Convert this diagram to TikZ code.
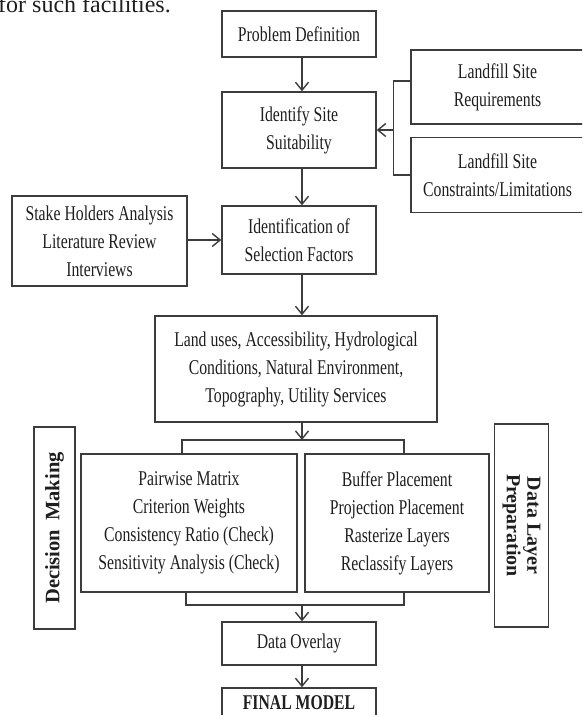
\documentclass[tikz,border=0pt]{standalone}
\usepackage{fontspec}
\setmainfont{Liberation Serif}[FakeStretch=0.75]
\newfontfamily\vfam{Liberation Serif}
\usetikzlibrary{arrows.meta}
\definecolor{lncol}{RGB}{60,60,60}
\definecolor{txcol}{RGB}{30,30,30}
\begin{document}
\begin{tikzpicture}[x=1pt,y=-1pt,
  box/.style={draw=lncol,line width=1.4pt,text=txcol,align=center,inner sep=0pt,
    font=\fontsize{21}{28}\selectfont},
  vbox/.style={draw=lncol,line width=1.4pt,text=txcol,align=center,inner sep=0pt},
  conn/.style={draw=lncol,line width=1.4pt},
  arr/.style={conn,-{Straight Barb[length=8pt,width=13pt]}}]
\useasboundingbox (0,0) rectangle (582,715);
\clip (0,0) rectangle (582,715);
\node[anchor=base west,font=\vfam\fontsize{24}{24}\selectfont,text=txcol,inner sep=0pt] (toptext) at (-2,12) {for such facilities.};
% main column
\node[box,minimum width=154pt,minimum height=46pt] (prob) at (299,34) {Problem Definition};
\node[box,minimum width=154pt,minimum height=76pt] (ident) at (299,130) {Identify Site\\Suitability};
\node[box,minimum width=154pt,minimum height=68pt] (sel) at (299,240) {Identification of\\Selection Factors};
\node[box,minimum width=282pt,minimum height=106pt] (land) at (296,369) {Land uses, Accessibility, Hydrological\\Conditions, Natural Environment,\\Topography, Utility Services};
\node[box,minimum width=216pt,minimum height=138pt] (pair) at (189,523) {Pairwise Matrix\\Criterion Weights\\Consistency Ratio (Check)\\Sensitivity Analysis (Check)};
\node[box,minimum width=184pt,minimum height=138pt] (buf) at (397,523) {Buffer Placement\\Projection Placement\\Rasterize Layers\\Reclassify Layers};
\node[box,minimum width=154pt,minimum height=43pt] (over) at (299,643.5) {Data Overlay};
\node[box,minimum width=154pt,minimum height=30pt] (final) at (299,703) {\bfseries FINAL MODEL};
% side boxes
\node[box,minimum width=173pt,minimum height=74pt] (req) at (497.5,87) {Landfill Site\\Requirements};
\node[box,minimum width=173pt,minimum height=75pt] (cons) at (497.5,175) {Landfill Site\\Constraints/Limitations};
\node[box,minimum width=175pt,minimum height=90pt] (stake) at (99.5,241) {Stake Holders Analysis\\Literature Review\\Interviews};
\node[vbox,minimum width=41pt,minimum height=202pt] (dec) at (54.5,528) {};
\node[rotate=90,text=txcol,inner sep=0pt,font=\vfam\bfseries\fontsize{20.5}{20.5}\selectfont] (dectext) at (dec.center) {Decision\hspace{4pt} Making};
\node[vbox,minimum width=54pt,minimum height=203pt] (dlp) at (521.5,525.5) {};
\node[rotate=-90,text=txcol,inner sep=0pt,align=center,font=\vfam\bfseries\fontsize{20}{20.5}\selectfont] (dlptext) at (dlp.center) {Data Layer\\Preparation};
% connectors
\draw[arr] ([xshift=3pt]prob.south) -- ([xshift=3pt]ident.north);
\draw[arr] ([xshift=3pt]ident.south) -- ([xshift=3pt]sel.north);
\coordinate (bm) at ([xshift=17pt]ident.east);
\draw[conn] ([yshift=6pt]req.west) -| (bm) |- (cons.west);
\draw[arr] (bm) -- (ident.east);
\draw[arr] (stake.east |- sel.west) -- (sel.west);
\draw[arr] ([xshift=3pt]sel.south) -- ([xshift=3pt]sel.south |- land.north);
\coordinate (tj) at (302,440);
\draw[arr] (land.south -| tj) -- (tj);
\draw[conn] ([xshift=-7pt]pair.north) |- (tj) -| ([xshift=7pt]buf.north);
\coordinate (bj) at (302,605);
\draw[conn] ([xshift=-3pt]pair.south) |- (bj) -| ([xshift=7pt]buf.south);
\draw[arr] (bj) -- (bj |- over.north);
\draw[arr] ([xshift=3pt]over.south) -- ([xshift=3pt]final.north);
\end{tikzpicture}
\end{document}
